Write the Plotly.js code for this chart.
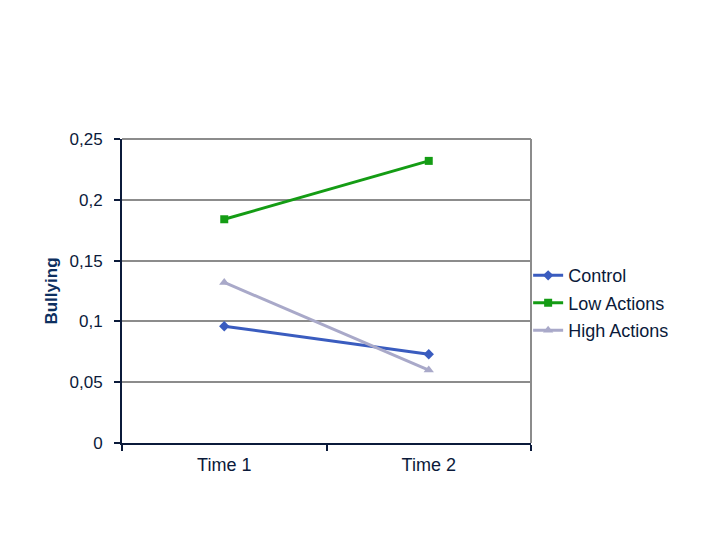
<!DOCTYPE html>
<html>
<head>
<meta charset="utf-8">
<script src="https://cdn.plot.ly/plotly-3.0.1.min.js"></script>
<style>html,body{margin:0;padding:0;background:#fff;}#chart{width:720px;height:540px;}</style>
</head>
<body>
<div id="chart"></div>
<script>
const categories = ["Time 1", "Time 2"];
const seriesNames = ["Control", "Low Actions", "High Actions"];
const controlValues = [0.096, 0.073];
const lowActionsValues = [0.184, 0.232];
const highActionsValues = [0.132, 0.060];
const yTickVals = [0, 0.05, 0.1, 0.15, 0.2, 0.25];
const yTickText = ["0", "0,05", "0,1", "0,15", "0,2", "0,25"];
const yTitle = "Bullying";

const navy = "#0b1a3a";
const colors = ["#3a5cbf", "#149c14", "#a9a9c9"];
const symbols = ["diamond", "square", "triangle-up"];
const sizes = [8, 8, 9];
const allValues = [controlValues, lowActionsValues, highActionsValues];

const traces = allValues.map((vals, i) => ({
  x: categories,
  y: vals,
  name: seriesNames[i],
  legendgroup: "g" + i,
  type: "scatter",
  mode: "lines+markers",
  line: {color: colors[i], width: 3},
  marker: {color: colors[i], symbol: symbols[i], size: sizes[i]}
}));

const layout = {
  width: 720, height: 540,
  margin: {l: 122, r: 189, t: 139, b: 97},
  paper_bgcolor: "#ffffff",
  plot_bgcolor: "#ffffff",
  font: {family: "Liberation Sans, Arial, sans-serif", size: 17, color: navy},
  separators: ", ",
  showlegend: true,
  legend: {
    x: 0.993, xanchor: "left", y: 0.46, yanchor: "middle",
    traceorder: "grouped", tracegroupgap: 1,
    font: {size: 18, color: navy},
    bgcolor: "rgba(0,0,0,0)"
  },
  xaxis: {
    type: "category",
    range: [-0.5, 1.5],
    tickson: "boundaries",
    ticks: "outside", ticklen: 6, tickwidth: 2, tickcolor: navy,
    ticklabelstandoff: 4,
    showline: true, linecolor: navy, linewidth: 2,
    showgrid: false, zeroline: false,
    tickfont: {size: 18, color: navy}
  },
  yaxis: {
    range: [0, 0.25],
    tickvals: yTickVals, ticktext: yTickText,
    ticks: "outside", ticklen: 6, tickwidth: 2, tickcolor: navy,
    ticklabelstandoff: 8,
    showline: true, linecolor: navy, linewidth: 2,
    showgrid: true, gridcolor: "#8c8c8c", gridwidth: 2,
    zeroline: false,
    tickfont: {size: 17, color: navy},
    title: {text: "<b>" + yTitle + "</b>", font: {size: 17, color: "#0d2f60"}, standoff: 8}
  },
  shapes: [
    {type: "line", xref: "paper", yref: "paper", x0: 1, x1: 1, y0: 0, y1: 1,
     line: {color: "#8c8c8c", width: 2}},
    {type: "line", xref: "paper", yref: "paper", x0: 0, x1: 1, y0: 1, y1: 1,
     line: {color: "#8c8c8c", width: 2}, layer: "below"}
  ]
};

Plotly.newPlot("chart", traces, layout, {displayModeBar: false, staticPlot: true});
</script>
</body>
</html>
